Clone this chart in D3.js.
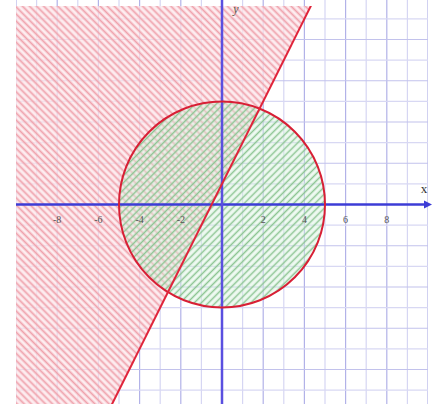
<!DOCTYPE html>
<html><head><meta charset="utf-8">
<script src="https://cdn.jsdelivr.net/npm/d3@7"></script>
<style>html,body{margin:0;padding:0;background:#fff;}svg{display:block;}</style>
</head><body>
<script>
// ---- data ----
const xTicks = [-8, -6, -4, -2, 2, 4, 6, 8];
const gridValues = d3.range(-10, 11, 1);
const circleCenter = [0, 0];
const circleRadius = 5;
const linePoints = [[-6, -11], [6, 13]];            // y = 2x + 1
const shadedRegion = [[-6, -11], [6, 13], [-12, 13], [-12, -11]]; // y >= 2x + 1

const W = 439, H = 404;
const x = d3.scaleLinear().domain([-10, 10]).range([16, 428]);
const y = d3.scaleLinear().domain([-10, 10]).range([410.75, -1.75]);

const svg = d3.select("body").append("svg").attr("width", W).attr("height", H);
const defs = svg.append("defs");

defs.append("clipPath").attr("id", "plot").append("rect")
  .attr("x", x(-10)).attr("y", 0).attr("width", x(10) - x(-10)).attr("height", H);
defs.append("clipPath").attr("id", "shade").append("rect")
  .attr("x", x(-10)).attr("y", 6).attr("width", x(10) - x(-10)).attr("height", H - 6);

const pRed = defs.append("pattern").attr("id", "hatchRed").attr("patternUnits", "userSpaceOnUse")
  .attr("width", 5).attr("height", 5).attr("patternTransform", "rotate(-45)");
pRed.append("rect").attr("width", 5).attr("height", 5).attr("fill", "#fce6ea").attr("fill-opacity", 0.75);
pRed.append("line").attr("x1", 1.5).attr("y1", 0).attr("x2", 1.5).attr("y2", 5)
  .attr("stroke", "#efa2ac").attr("stroke-width", 1.8);

const pGreen = defs.append("pattern").attr("id", "hatchGreen").attr("patternUnits", "userSpaceOnUse")
  .attr("width", 5).attr("height", 5).attr("patternTransform", "rotate(45)");
pGreen.append("rect").attr("width", 5).attr("height", 5).attr("fill", "#ddf4e3").attr("fill-opacity", 0.45);
pGreen.append("line").attr("x1", 1.5).attr("y1", 0).attr("x2", 1.5).attr("y2", 5)
  .attr("stroke", "#8cc592").attr("stroke-width", 1.5);

// grid
const g = svg.append("g").attr("clip-path", "url(#plot)");
g.selectAll("line.v").data(gridValues).join("line")
  .attr("x1", d => x(d)).attr("x2", d => x(d)).attr("y1", 0).attr("y2", H)
  .attr("stroke", d => d % 2 === 0 ? "#b2b2e8" : "#d6d6f3").attr("stroke-width", 1.2);
g.selectAll("line.h").data(gridValues).join("line")
  .attr("y1", d => y(d)).attr("y2", d => y(d)).attr("x1", x(-10)).attr("x2", x(10))
  .attr("stroke", d => d % 2 === 0 ? "#c2c2ec" : "#d8d8f3").attr("stroke-width", 1.2);

// shaded half-plane
const sh = svg.append("g").attr("clip-path", "url(#shade)");
sh.append("path").datum(shadedRegion)
  .attr("d", d3.line().x(d => x(d[0])).y(d => y(d[1])).curve(d3.curveLinearClosed))
  .attr("fill", "url(#hatchRed)");

// circle interior
svg.append("circle").attr("cx", x(circleCenter[0])).attr("cy", y(circleCenter[1]))
  .attr("r", x(circleRadius) - x(0)).attr("fill", "url(#hatchGreen)");

// axes
const ax = svg.append("g");
ax.append("line").attr("x1", x(-10)).attr("x2", 426).attr("y1", y(0)).attr("y2", y(0))
  .attr("stroke", "#3c3cd6").attr("stroke-width", 2.5);
ax.append("path").attr("d", `M${432},${y(0)} L${424},${y(0)-4} L${424},${y(0)+4} Z`).attr("fill", "#3c3cd6");
ax.append("line").attr("x1", x(0)).attr("x2", x(0)).attr("y1", 0).attr("y2", H)
  .attr("stroke", "#5a4fe0").attr("stroke-width", 2.5);

// circle stroke & line
svg.append("circle").attr("cx", x(circleCenter[0])).attr("cy", y(circleCenter[1]))
  .attr("r", x(circleRadius) - x(0)).attr("fill", "none").attr("stroke", "#d81f35").attr("stroke-width", 2);
svg.append("g").attr("clip-path", "url(#shade)").append("path").datum(linePoints)
  .attr("d", d3.line().x(d => x(d[0])).y(d => y(d[1])))
  .attr("stroke", "#e0243a").attr("stroke-width", 2).attr("fill", "none");

// tick labels
svg.selectAll("text.tick").data(xTicks).join("text")
  .attr("x", d => x(d)).attr("y", y(0) + 18).attr("text-anchor", "middle")
  .attr("font-family", "Liberation Serif, serif").attr("font-size", 10).attr("fill", "#555")
  .text(d => d);

svg.append("text").attr("x", 424).attr("y", y(0) - 12).attr("text-anchor", "middle")
  .attr("font-family", "Liberation Serif, serif").attr("font-size", 13).attr("fill", "#333").text("x");
svg.append("text").attr("x", 236).attr("y", 13).attr("text-anchor", "middle")
  .attr("font-family", "Liberation Serif, serif").attr("font-style", "italic").attr("font-size", 12).attr("fill", "#554").text("y");
</script>
</body></html>
